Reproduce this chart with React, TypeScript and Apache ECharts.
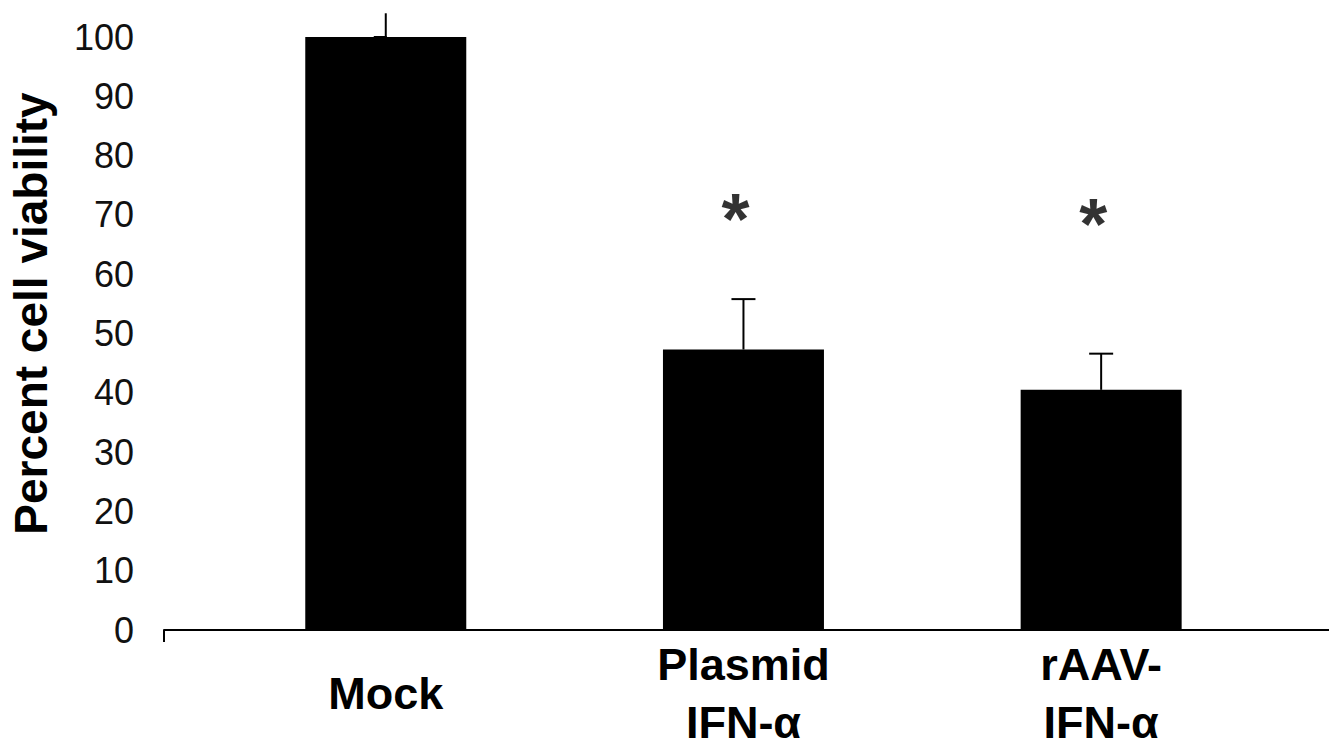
import React, { useEffect, useRef } from "react";
import * as echarts from "echarts";

const categories = ["Mock", "Plasmid\nIFN-α", "rAAV-\nIFN-α"];
const viability = [100, 47.3, 40.5];
const errorUpper = [104, 55.8, 46.6];
const significance = ["", "*", "*"];
const significanceLevel = [null, 71, 70.2];
const yMin = 0;
const yMax = 100;
const yInterval = 10;
const yTitle = "Percent cell viability";

const X_MIN = -0.62;
const X_MAX = 2.637;
const FONT = "'Liberation Sans', Arial, Helvetica, sans-serif";

export default function App() {
  const ref = useRef<HTMLDivElement>(null);
  useEffect(() => {
    if (!ref.current) return;
    const chart = echarts.init(ref.current, undefined, { renderer: "svg" });
    const catIdx = categories.map((_, i) => i);
    chart.setOption({
      animation: false,
      backgroundColor: "#ffffff",
      grid: { left: 163, right: 0, top: 37, bottom: 110.5, containLabel: false },
      xAxis: {
        type: "value",
        min: X_MIN,
        max: X_MAX,
        splitLine: { show: false },
        axisLine: { show: true, lineStyle: { color: "#000", width: 2 } },
        axisTick: {
          show: true,
          customValues: [X_MIN],
          length: 12,
          inside: false,
          lineStyle: { color: "#000", width: 2 },
        },
        axisLabel: {
          show: true,
          customValues: catIdx,
          formatter: (v: number) => categories[Math.round(v)] ?? "",
          fontFamily: FONT,
          fontWeight: "bold",
          fontSize: 45,
          lineHeight: 58,
          color: "#000",
          verticalAlign: "middle",
          margin: 63,
        },
      },
      yAxis: {
        type: "value",
        min: yMin,
        max: yMax,
        interval: yInterval,
        name: yTitle,
        nameLocation: "middle",
        nameGap: 110,
        nameTextStyle: {
          fontFamily: FONT,
          fontWeight: "bold",
          fontSize: 46,
          color: "#000",
          padding: [0, 0, 0, 40],
        },
        splitLine: { show: false },
        axisLine: { show: true, lineStyle: { color: "#000", width: 2 } },
        axisTick: {
          show: true,
          length: 12,
          inside: false,
          lineStyle: { color: "#000", width: 2 },
        },
        axisLabel: {
          fontFamily: FONT,
          fontSize: 36,
          color: "#111",
          margin: 30,
        },
      },
      series: [
        {
          type: "bar",
          data: viability.map((v, i) => [i, v]),
          barWidth: 161,
          itemStyle: { color: "#000" },
          z: 2,
        },
        {
          type: "custom",
          data: viability.map((v, i) => [i, errorUpper[i], v]),
          clip: false,
          z: 3,
          renderItem: (params: any, api: any) => {
            const x = api.value(0);
            const top = api.value(1);
            const base = api.value(2);
            const p1 = api.coord([x, base]);
            const p2 = api.coord([x, top]);
            const style = { stroke: "#000", lineWidth: 2 };
            const children: any[] = [
              { type: "line", shape: { x1: p1[0], y1: p1[1], x2: p2[0], y2: p2[1] }, style },
            ];
            if (top <= yMax) {
              children.push({
                type: "line",
                shape: { x1: p2[0] - 12, y1: p2[1], x2: p2[0] + 12, y2: p2[1] },
                style,
              });
            }
            return { type: "group", children };
          },
        },
        {
          type: "scatter",
          data: catIdx
            .filter((i) => significance[i] && significanceLevel[i] != null)
            .map((i) => [i, significanceLevel[i], significance[i]]),
          symbolSize: 1,
          itemStyle: { color: "transparent" },
          label: {
            show: true,
            position: "inside",
            formatter: (p: any) => p.value[2],
            fontFamily: FONT,
            fontWeight: "bold",
            fontSize: 72,
            color: "#000",
            offset: [-8, 10],
          },
          z: 4,
        },
      ],
    });
    return () => chart.dispose();
  }, []);
  return (
    <div
      ref={ref}
      style={{ position: "fixed", left: 0, top: 0, width: 1329, height: 751, background: "#fff" }}
    />
  );
}
